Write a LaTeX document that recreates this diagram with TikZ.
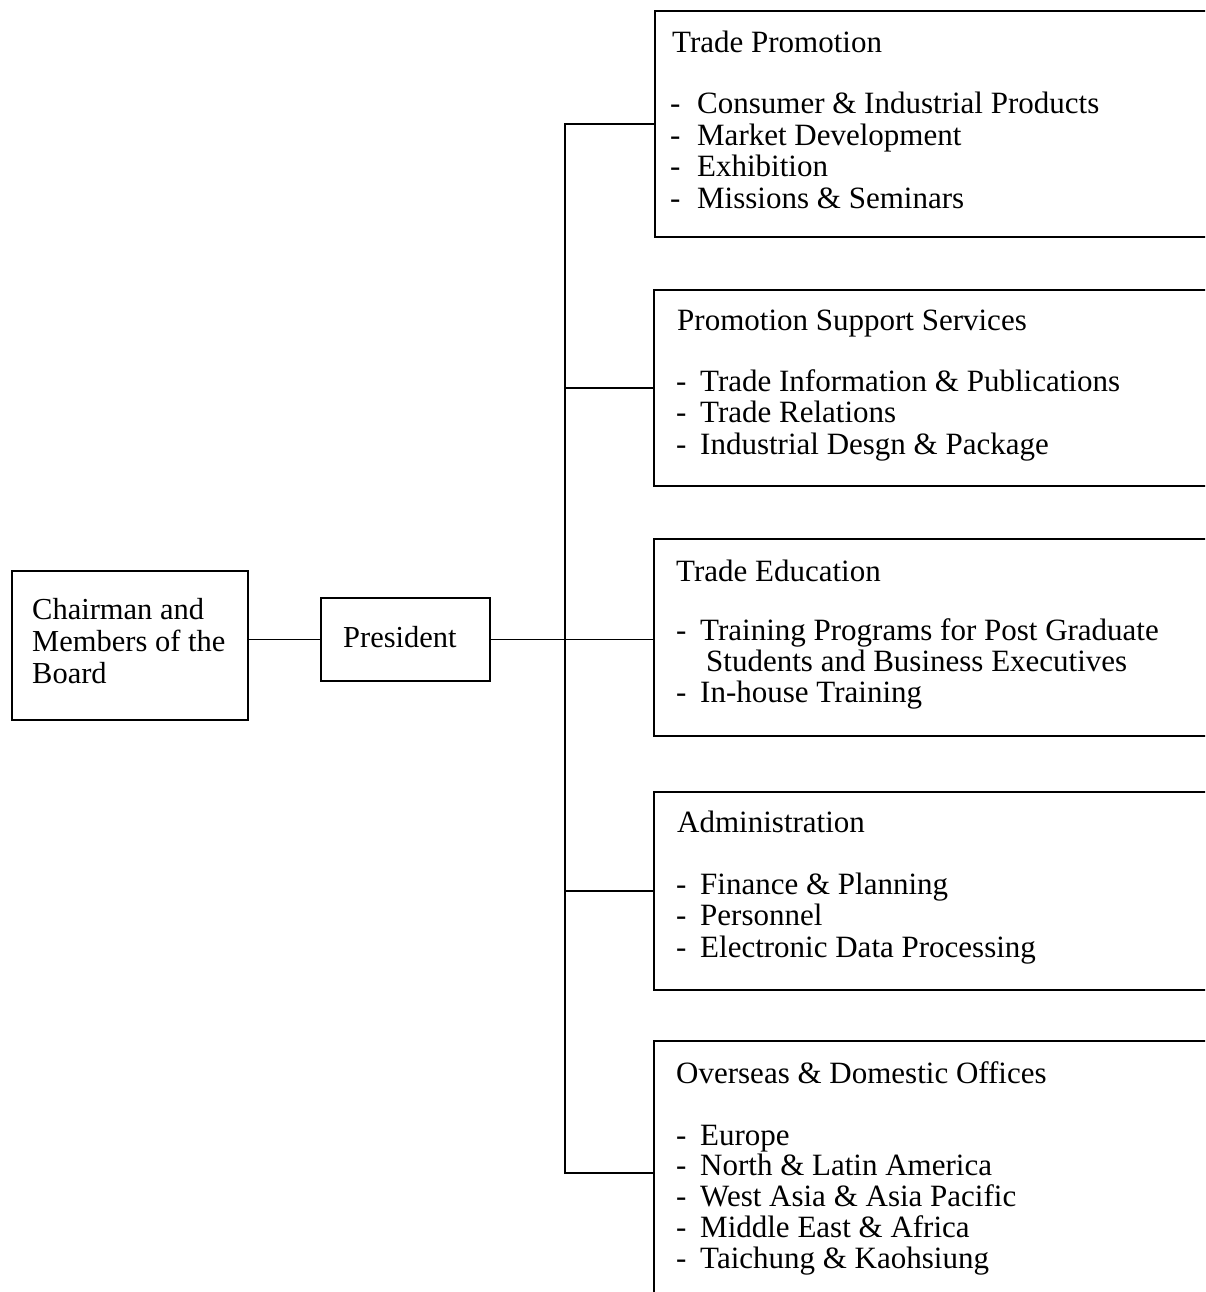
\documentclass[tikz,border=0pt]{standalone}
\usepackage{fontspec}
\setmainfont{Liberation Serif}
\begin{document}
\begin{tikzpicture}[x=1pt,y=-1pt,
  box/.style={draw, line width=1.7pt, rectangle, inner sep=0pt, anchor=north west},
  conn/.style={line width=1.6pt},
  txt/.style={anchor=base west, inner sep=0pt, font=\fontsize{31}{31}\selectfont},
  ltxt/.style={anchor=base west, inner sep=0pt, font=\fontsize{30.5}{30.5}\selectfont}]
\useasboundingbox (0,0) rectangle (1205,1292);
\clip (0,0) rectangle (1205,1292);

% board and president
\node[box, minimum width=236pt, minimum height=149pt] (chair) at (11,570) {};
\node[box, minimum width=169pt, minimum height=83pt] (pres) at (320,597) {};
\node[ltxt] (chair1) at (32,619) {Chairman and};
\node[ltxt] (chair2) at (32,651) {Members of the};
\node[ltxt] (chair3) at (32,683) {Board};
\node[ltxt] (prest) at (343,647) {President};

% departments (open towards the right margin)
\node[box, minimum width=600pt, minimum height=226pt] (tp)  at (654,10)   {};
\node[box, minimum width=600pt, minimum height=196pt] (pss) at (653,289)  {};
\node[box, minimum width=600pt, minimum height=197pt] (te)  at (653,538)  {};
\node[box, minimum width=600pt, minimum height=198pt] (adm) at (653,791)  {};
\node[box, minimum width=600pt, minimum height=264pt] (ods) at (653,1040) {};

% connectors
\coordinate (spine) at (565,0);
\draw[conn] (chair.east |- pres.west) -- (pres.west);
\draw[conn] (pres.east) -- (pres.east -| te.west);
\draw[conn] (tp.west) -- (tp.west -| spine) -- (ods.west -| spine) -- (ods.west);
\foreach \b in {pss,adm}
  \draw[conn] (\b.west -| spine) -- (\b.west);

% Trade Promotion
\node[txt] (tph) at (672,53) {Trade Promotion};
\foreach \t [count=\i] in {Consumer \& Industrial Products, Market Development, Exhibition, Missions \& Seminars}
  \node[txt] (tp-\i) at (670,114+31.5*\i-31.5) {\makebox[27pt][l]{-}\t};

% Promotion Support Services
\node[txt] (pssh) at (677,330) {Promotion Support Services};
\foreach \t [count=\i] in {Trade Information \& Publications, Trade Relations, Industrial Desgn \& Package}
  \node[txt] (pss-\i) at (676,391+31.5*\i-31.5) {\makebox[24pt][l]{-}\t};

% Trade Education
\node[txt] (teh) at (676,581) {Trade Education};
\node[txt] (te-1) at (676,640) {\makebox[24pt][l]{-}Training Programs for Post Graduate};
\node[txt] (te-2) at (706,671) {Students and Business Executives};
\node[txt] (te-3) at (676,702) {\makebox[24pt][l]{-}In-house Training};

% Administration
\node[txt] (admh) at (677,832) {Administration};
\foreach \t [count=\i] in {Finance \& Planning, Personnel, Electronic Data Processing}
  \node[txt] (adm-\i) at (676,894+31.5*\i-31.5) {\makebox[24pt][l]{-}\t};

% Overseas & Domestic Offices
\node[txt] (odsh) at (676,1083) {Overseas \& Domestic Offices};
\foreach \t [count=\i] in {Europe, North \& Latin America, West Asia \& Asia Pacific, Middle East \& Africa, Taichung \& Kaohsiung}
  \node[txt] (ods-\i) at (676,1145+30.8*\i-30.8) {\makebox[24pt][l]{-}\t};
\end{tikzpicture}
\end{document}
